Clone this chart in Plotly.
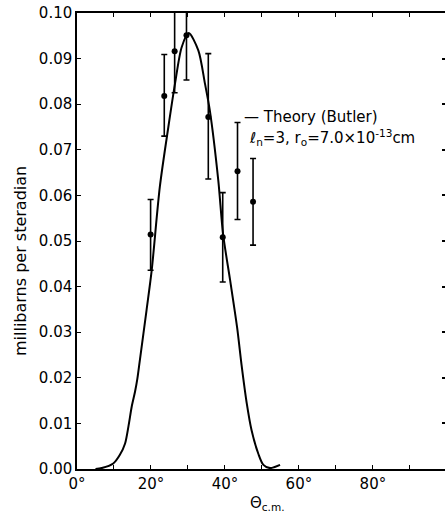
import plotly.graph_objects as go

# Experimental points (angle in degrees, cross section in mb/sr)
angles = [19.9, 23.6, 26.4, 29.6, 35.5, 39.4, 43.4, 47.6]
sigma = [0.0514, 0.0818, 0.0916, 0.0951, 0.0772, 0.0508, 0.0653, 0.0586]
err_plus = [0.0077, 0.0091, 0.0091, 0.0098, 0.0139, 0.0098, 0.0107, 0.0095]
err_minus = [0.0078, 0.0088, 0.0091, 0.0098, 0.0136, 0.0098, 0.0106, 0.0095]

# Theory curve (Butler)
theory_x = [5.0, 6.7, 9.8, 11.6, 13.0, 13.9, 14.8, 15.7, 16.3, 17.0, 18.8, 20.2,
            22.4, 24.7, 26.5, 28.3, 30.2, 32.8, 34.6, 35.9, 38.2, 39.5, 41.4,
            43.3, 44.5, 45.9, 47.2, 49.0, 50.4, 52.2, 54.9]
theory_y = [0.0, 0.0002, 0.0012, 0.0031, 0.0056, 0.0093, 0.0137, 0.0170, 0.0197,
            0.0239, 0.0348, 0.0436, 0.0619, 0.075, 0.0845, 0.0925, 0.0956, 0.0918,
            0.0845, 0.0787, 0.0633, 0.0515, 0.0414, 0.0310, 0.0228, 0.0144, 0.0085,
            0.0034, 0.0009, 0.0002, 0.0009]

x_tickvals = [0, 20, 40, 60, 80]
x_ticktext = ["0°", "20°", "40°", "60°", "80°"]
y_tickvals = [0.0, 0.01, 0.02, 0.03, 0.04, 0.05, 0.06, 0.07, 0.08, 0.09, 0.10]
y_ticktext = ["0.00", "0.01", "0.02", "0.03", "0.04", "0.05", "0.06", "0.07",
              "0.08", "0.09", "0.10"]

FONT = "DejaVu Sans"

fig = go.Figure()
fig.add_trace(go.Scatter(
    x=theory_x, y=theory_y, mode="lines",
    line=dict(color="black", width=2, shape="spline", smoothing=0.8),
    hoverinfo="skip", showlegend=False, cliponaxis=True))
fig.add_trace(go.Scatter(
    x=angles, y=sigma, mode="markers",
    marker=dict(color="black", size=6),
    error_y=dict(type="data", symmetric=False, array=err_plus, arrayminus=err_minus,
                 color="black", thickness=1.6, width=3),
    showlegend=False, cliponaxis=True))
# dummy trace for right-hand tick axis
fig.add_trace(go.Scatter(x=[0], y=[0], yaxis="y2", mode="markers",
                         marker=dict(opacity=0), hoverinfo="skip", showlegend=False))

fig.update_layout(
    width=445, height=518,
    margin=dict(l=77, r=0, t=13, b=49),
    paper_bgcolor="white", plot_bgcolor="white",
    font=dict(family=FONT, color="black", size=15),
    xaxis=dict(range=[0, 99.5], tickvals=x_tickvals, ticktext=x_ticktext,
               ticks="inside", ticklen=4, tickwidth=1.2, tickcolor="black",
               minor=dict(tickvals=[10, 30, 50, 70, 90], ticks="inside", ticklen=4,
                          tickwidth=1.2, tickcolor="black"),
               showline=True, linecolor="black", linewidth=1.5, mirror="ticks",
               showgrid=False, zeroline=False, tickfont=dict(size=15)),
    yaxis=dict(range=[0, 0.10], tickvals=y_tickvals, ticktext=y_ticktext,
               ticks="inside", ticklen=4, tickwidth=1.2, tickcolor="black",
               showline=True, linecolor="black", linewidth=1.5,
               showgrid=False, zeroline=False, tickfont=dict(size=15)),
    yaxis2=dict(range=[0, 0.10], overlaying="y", side="right", tickvals=y_tickvals,
                ticks="inside", ticklen=3, tickwidth=1.5, tickcolor="black",
                showticklabels=False, showline=False, showgrid=False, zeroline=False),
    annotations=[
        dict(x=44.6, y=0.0771, xref="x", yref="y", xanchor="left", yanchor="middle",
             text="— Theory (Butler)", showarrow=False, font=dict(size=15)),
        dict(x=45.9, y=0.0726, xref="x", yref="y", xanchor="left", yanchor="middle",
             text="ℓ<sub>n</sub>=3, r<sub>o</sub>=7.0×10<sup>-13</sup>cm",
             showarrow=False, font=dict(size=15)),
        dict(x=-0.155, y=0.456, xref="paper", yref="paper", xanchor="center",
             yanchor="middle", textangle=-90, text="millibarns per steradian",
             showarrow=False, font=dict(size=16)),
        dict(x=0.519, y=-0.0746, xref="paper", yref="paper", xanchor="center",
             yanchor="middle", text="Θ<sub>c.m.</sub>", showarrow=False,
             font=dict(size=15)),
    ],
)
fig.write_html("out.html")
